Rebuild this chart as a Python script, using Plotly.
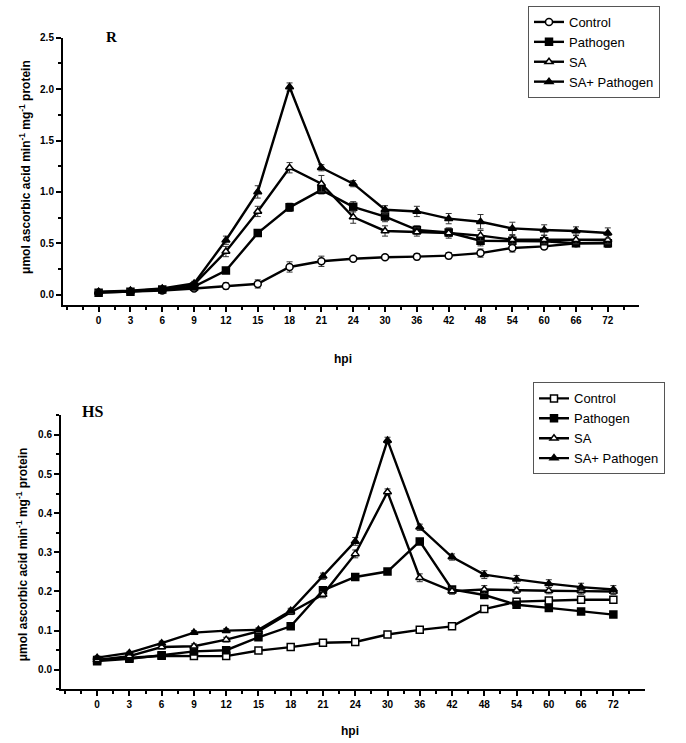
import plotly.graph_objects as go

# ---------------- data ----------------
hpi_labels = ["0", "3", "6", "9", "12", "15", "18", "21", "24", "30", "36", "42", "48", "54", "60", "66", "72"]
series_names = ["Control", "Pathogen", "SA", "SA+ Pathogen"]

# R genotype
r_control = [0.02, 0.03, 0.04, 0.06, 0.085, 0.105, 0.27, 0.325, 0.35, 0.365, 0.37, 0.38, 0.405, 0.455, 0.47, 0.50, 0.505]
r_pathogen = [0.02, 0.03, 0.05, 0.08, 0.235, 0.60, 0.85, 1.02, 0.855, 0.76, 0.63, 0.605, 0.525, 0.525, 0.52, 0.50, 0.50]
r_sa = [0.025, 0.035, 0.055, 0.10, 0.42, 0.81, 1.235, 1.08, 0.755, 0.62, 0.61, 0.60, 0.575, 0.535, 0.535, 0.535, 0.535]
r_sap = [0.03, 0.04, 0.06, 0.11, 0.53, 1.00, 2.02, 1.235, 1.08, 0.826, 0.81, 0.74, 0.71, 0.645, 0.63, 0.62, 0.60]
r_control_err = [0.01, 0.01, 0.01, 0.01, 0.03, 0.04, 0.05, 0.05, 0.02, 0.02, 0.03, 0.03, 0.04, 0.04, 0.03, 0.03, 0.03]
r_pathogen_err = [0.01, 0.01, 0.01, 0.01, 0.02, 0.03, 0.04, 0.04, 0.05, 0.05, 0.04, 0.04, 0.05, 0.03, 0.03, 0.03, 0.04]
r_sa_err = [0.01, 0.01, 0.01, 0.02, 0.05, 0.05, 0.05, 0.08, 0.06, 0.05, 0.04, 0.05, 0.05, 0.04, 0.04, 0.04, 0.04]
r_sap_err = [0.01, 0.01, 0.01, 0.02, 0.04, 0.06, 0.04, 0.03, 0.03, 0.04, 0.05, 0.05, 0.07, 0.06, 0.05, 0.04, 0.05]

# HS genotype
hs_control = [0.025, 0.03, 0.036, 0.035, 0.035, 0.049, 0.058, 0.069, 0.071, 0.090, 0.102, 0.111, 0.155, 0.174, 0.177, 0.179, 0.179]
hs_pathogen = [0.022, 0.028, 0.037, 0.047, 0.05, 0.083, 0.111, 0.203, 0.237, 0.251, 0.328, 0.205, 0.191, 0.166, 0.158, 0.149, 0.141]
hs_sa = [0.025, 0.035, 0.058, 0.06, 0.077, 0.098, 0.147, 0.192, 0.296, 0.454, 0.235, 0.201, 0.205, 0.203, 0.202, 0.201, 0.200]
hs_sap = [0.031, 0.043, 0.068, 0.095, 0.10, 0.102, 0.151, 0.239, 0.328, 0.586, 0.364, 0.288, 0.243, 0.231, 0.22, 0.211, 0.205]
hs_control_err = [0.004, 0.004, 0.004, 0.005, 0.005, 0.004, 0.005, 0.004, 0.004, 0.005, 0.006, 0.008, 0.005, 0.005, 0.005, 0.005, 0.005]
hs_pathogen_err = [0.004, 0.004, 0.004, 0.005, 0.006, 0.005, 0.006, 0.006, 0.005, 0.005, 0.006, 0.006, 0.006, 0.005, 0.005, 0.005, 0.005]
hs_sa_err = [0.004, 0.004, 0.005, 0.006, 0.006, 0.006, 0.006, 0.008, 0.01, 0.008, 0.01, 0.008, 0.01, 0.008, 0.008, 0.008, 0.008]
hs_sap_err = [0.004, 0.004, 0.005, 0.005, 0.005, 0.005, 0.006, 0.008, 0.01, 0.008, 0.008, 0.008, 0.01, 0.01, 0.01, 0.01, 0.01]

x_idx = list(range(len(hpi_labels)))

fig = go.Figure()

def add_series(y, err, name, symbol, hollow, xa, ya, legend):
    fig.add_trace(go.Scatter(
        x=x_idx, y=y, name=name, mode="lines+markers",
        xaxis=xa, yaxis=ya, legend=legend,
        line=dict(color="black", width=2.4),
        marker=dict(symbol=symbol, size=7, color="white" if hollow else "black",
                    line=dict(color="black", width=1.5)),
        error_y=dict(type="data", array=err, visible=True, color="#333", thickness=1, width=3),
    ))

add_series(r_control, r_control_err, series_names[0], "circle", True, "x", "y", "legend")
add_series(r_pathogen, r_pathogen_err, series_names[1], "square", False, "x", "y", "legend")
add_series(r_sa, r_sa_err, series_names[2], "triangle-up", True, "x", "y", "legend")
add_series(r_sap, r_sap_err, series_names[3], "triangle-up", False, "x", "y", "legend")

add_series(hs_control, hs_control_err, series_names[0], "square", True, "x2", "y2", "legend2")
add_series(hs_pathogen, hs_pathogen_err, series_names[1], "square", False, "x2", "y2", "legend2")
add_series(hs_sa, hs_sa_err, series_names[2], "triangle-up", True, "x2", "y2", "legend2")
add_series(hs_sap, hs_sap_err, series_names[3], "triangle-up", False, "x2", "y2", "legend2")

tick_font = dict(family="Arial", size=10, color="black", weight="bold")
major_x = list(range(0, 17))
minor_x = [-1] + [i + 0.5 for i in range(-1, 17)]

common_x = dict(
    showline=True, linecolor="black", linewidth=2, showgrid=False, zeroline=False,
    ticks="outside", ticklen=5, tickwidth=1.5, tickcolor="black",
    tickmode="array", tickvals=major_x, ticktext=hpi_labels,
    tickfont=tick_font, range=[-1.12, 16.98],
    minor=dict(ticks="outside", ticklen=3, tickwidth=1.5, tickcolor="black", tickmode="array", tickvals=minor_x),
)
common_y = dict(
    showline=True, linecolor="black", linewidth=2, showgrid=False, zeroline=False,
    ticks="outside", ticklen=5, tickwidth=1.5, tickcolor="black",
    tickfont=tick_font,
)

legend_style = dict(xanchor="left", yanchor="top", bordercolor="#555", borderwidth=1, bgcolor="white",
                    font=dict(family="Arial", size=13, color="black"), tracegroupgap=0, itemwidth=30)

fig.update_layout(
    width=686, height=743,
    margin=dict(l=0, r=0, t=0, b=0),
    paper_bgcolor="white", plot_bgcolor="white",
    font=dict(family="Arial", color="black"),
    xaxis=dict(domain=[0.0918, 0.9315], anchor="y", **common_x),
    yaxis=dict(domain=[0.5935, 0.9557], anchor="x", range=[-0.1, 2.5], dtick=0.5, tick0=0,
               tickformat=".1f",
               minor=dict(ticks="outside", ticklen=3, tickwidth=1.5, tickcolor="black", dtick=0.25, tick0=0),
               **common_y),
    xaxis2=dict(domain=[0.0889, 0.9402], anchor="y2", **common_x),
    yaxis2=dict(domain=[0.0727, 0.4440], anchor="x2", range=[-0.05, 0.65], dtick=0.1, tick0=0,
                tickformat=".1f",
                minor=dict(ticks="outside", ticklen=3, tickwidth=1.5, tickcolor="black", dtick=0.05, tick0=0),
                **common_y),
    legend=dict(x=528 / 686, y=1 - 1 / 743, **legend_style),
    legend2=dict(x=533 / 686, y=1 - 380 / 743, **legend_style),
    showlegend=True,
)

ytitle = "<b>μmol ascorbic acid min<sup>-1</sup> mg<sup>-1</sup> protein</b>"
serif = "Liberation Serif, Times New Roman, serif"
annotations = [
    dict(text="<b>R</b>", x=112 / 686, y=1 - 32 / 743, xref="paper", yref="paper",
         xanchor="center", yanchor="middle",
         showarrow=False, font=dict(family=serif, size=15, color="black")),
    dict(text="<b>HS</b>", x=92 / 686, y=1 - 409 / 743, xref="paper", yref="paper",
         xanchor="center", yanchor="middle",
         showarrow=False, font=dict(family=serif, size=16, color="black")),
    dict(text=ytitle, x=25 / 686, y=1 - 163 / 743, xref="paper", yref="paper", textangle=-90,
         xanchor="center", yanchor="middle",
         showarrow=False, font=dict(family="Arial", size=12, color="black")),
    dict(text=ytitle, x=22 / 686, y=1 - 553 / 743, xref="paper", yref="paper", textangle=-90,
         xanchor="center", yanchor="middle",
         showarrow=False, font=dict(family="Arial", size=12, color="black")),
    dict(text="<b>hpi</b>", x=343 / 686, y=1 - 356 / 743, xref="paper", yref="paper",
         xanchor="center", yanchor="middle",
         showarrow=False, font=dict(family="Arial", size=12, color="black")),
    dict(text="<b>hpi</b>", x=350 / 686, y=1 - 731 / 743, xref="paper", yref="paper",
         xanchor="center", yanchor="middle",
         showarrow=False, font=dict(family="Arial", size=12, color="black")),
]
fig.update_layout(annotations=annotations)

fig.write_html("out.html", config={"displayModeBar": False},
               post_script="document.body.style.margin='0';document.body.style.overflow='hidden';")
